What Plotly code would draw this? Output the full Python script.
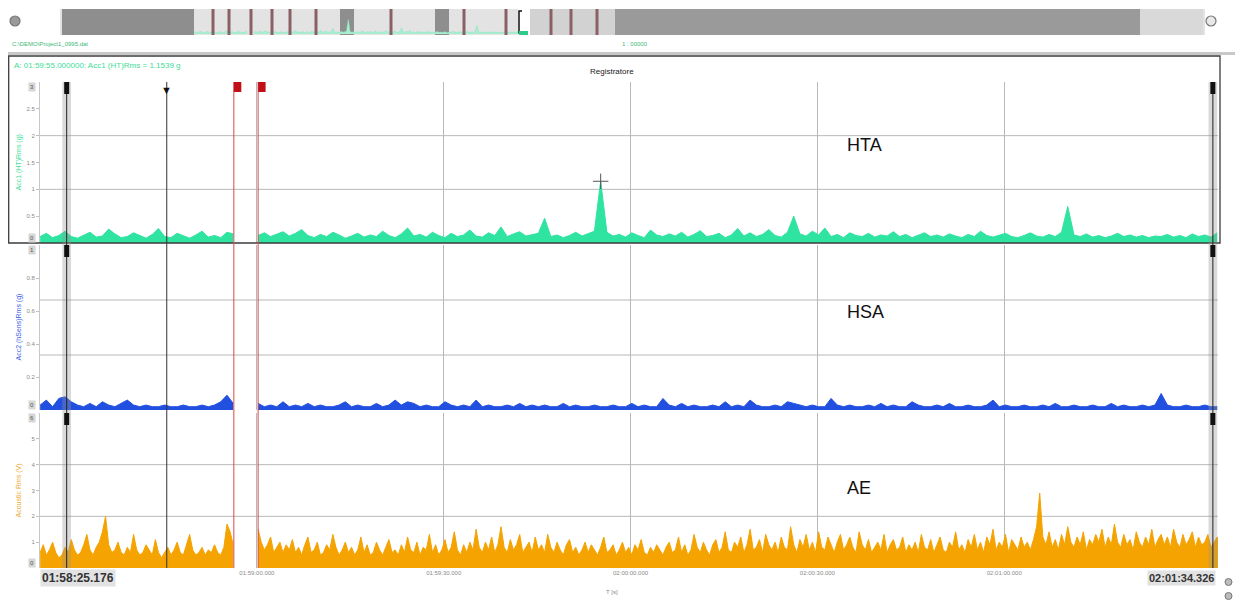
import numpy as np
import pandas as pd
import plotly.graph_objects as go

# The page body has an 8px margin, so the figure is made 8px smaller and
# all pixel positions below are given in page coordinates.
PAGE_W, PAGE_H = 1243, 604
OFF = 8
W, H = PAGE_W - OFF, PAGE_H - OFF

# ---------------- data ----------------
start_time = "2000-01-01 01:58:25.2"
x_start = "2000-01-01 01:58:25.176"
x_end = "2000-01-01 02:01:34.326"

# HTA and HSA: one value per second
hta = [
    0.12, 0.18, 0.10, 0.14, 0.22, 0.12, 0.09, 0.15, 0.20, 0.11,
    0.13, 0.26, 0.17, 0.10, 0.12, 0.19, 0.14, 0.09, 0.16, 0.27,
    0.12, 0.10, 0.18, 0.13, 0.09, 0.15, 0.22, 0.11, 0.14, 0.10,
    0.20, 0.17, None, None, None, 0.14, 0.19, 0.12, 0.16, 0.21,
    0.13, 0.18, 0.25, 0.14, 0.10, 0.16, 0.12, 0.20, 0.15, 0.09,
    0.13, 0.18, 0.11, 0.15, 0.12, 0.22, 0.14, 0.10, 0.17, 0.28,
    0.13, 0.16, 0.11, 0.20, 0.14, 0.10, 0.18, 0.12, 0.15, 0.24,
    0.13, 0.11, 0.19, 0.14, 0.30, 0.12, 0.17, 0.21, 0.13, 0.16,
    0.18, 0.46, 0.12, 0.15, 0.10, 0.14, 0.20, 0.13, 0.17, 0.22,
    1.15, 0.20, 0.13, 0.16, 0.11, 0.19, 0.14, 0.10, 0.24, 0.15,
    0.12, 0.17, 0.13, 0.20, 0.11, 0.16, 0.23, 0.12, 0.14, 0.18,
    0.10, 0.15, 0.27, 0.13, 0.19, 0.12, 0.16, 0.25, 0.14, 0.11,
    0.20, 0.50, 0.17, 0.13, 0.22, 0.15, 0.28, 0.12, 0.16, 0.10,
    0.19, 0.14, 0.12, 0.18, 0.11, 0.15, 0.13, 0.21, 0.12, 0.16,
    0.10, 0.14, 0.19, 0.12, 0.15, 0.11, 0.17, 0.13, 0.10, 0.16,
    0.12, 0.22, 0.14, 0.11, 0.15, 0.18, 0.12, 0.10, 0.14, 0.19,
    0.13, 0.11, 0.16, 0.12, 0.20, 0.68, 0.15, 0.12, 0.17, 0.11,
    0.14, 0.10, 0.13, 0.18, 0.12, 0.15, 0.11, 0.14, 0.10, 0.13,
    0.12, 0.16, 0.11, 0.14, 0.10, 0.17, 0.12, 0.15, 0.11, 0.19,
]

hsa = [
    0.03, 0.06, 0.02, 0.07, 0.08, 0.05, 0.03, 0.02, 0.04, 0.02,
    0.05, 0.03, 0.02, 0.04, 0.06, 0.03, 0.02, 0.03, 0.02, 0.02,
    0.03, 0.02, 0.02, 0.03, 0.02, 0.02, 0.03, 0.02, 0.03, 0.05,
    0.09, 0.04, None, None, None, 0.04, 0.02, 0.03, 0.02, 0.05,
    0.02, 0.03, 0.02, 0.04, 0.02, 0.03, 0.02, 0.02, 0.03, 0.05,
    0.02, 0.03, 0.02, 0.02, 0.04, 0.02, 0.03, 0.06, 0.03, 0.05,
    0.04, 0.02, 0.03, 0.02, 0.02, 0.05, 0.03, 0.02, 0.03, 0.02,
    0.06, 0.02, 0.03, 0.02, 0.02, 0.03, 0.02, 0.04, 0.02, 0.03,
    0.02, 0.03, 0.02, 0.02, 0.04, 0.02, 0.03, 0.02, 0.02, 0.03,
    0.02, 0.02, 0.03, 0.02, 0.02, 0.04, 0.02, 0.03, 0.02, 0.02,
    0.07, 0.03, 0.02, 0.04, 0.02, 0.03, 0.02, 0.02, 0.03, 0.02,
    0.05, 0.02, 0.03, 0.02, 0.06, 0.03, 0.02, 0.02, 0.03, 0.02,
    0.05, 0.04, 0.03, 0.02, 0.03, 0.02, 0.02, 0.07, 0.03, 0.02,
    0.03, 0.02, 0.02, 0.03, 0.02, 0.04, 0.02, 0.03, 0.02, 0.02,
    0.05, 0.03, 0.02, 0.02, 0.03, 0.02, 0.04, 0.02, 0.02, 0.03,
    0.02, 0.02, 0.03, 0.06, 0.02, 0.03, 0.02, 0.02, 0.03, 0.02,
    0.02, 0.03, 0.02, 0.04, 0.02, 0.02, 0.03, 0.02, 0.02, 0.03,
    0.02, 0.02, 0.04, 0.02, 0.03, 0.02, 0.02, 0.03, 0.02, 0.03,
    0.10, 0.03, 0.02, 0.02, 0.03, 0.02, 0.02, 0.03, 0.02, 0.02,
]

# AE: one value per half second
ae = [
    0.6, 0.9, 0.5, 0.7, 1.0, 0.6, 0.4, 0.5, 0.8, 0.6, 1.1, 0.7, 0.5, 0.6, 0.9, 1.3, 0.7, 0.5, 0.8, 1.0,
    1.4, 2.0, 0.9, 0.6, 0.7, 1.0, 0.6, 0.5, 0.8, 0.6, 1.3, 0.7, 0.5, 0.6, 0.9, 0.7, 0.5, 1.1, 0.6, 0.4,
    0.6, 0.8, 0.5, 0.7, 1.0, 0.6, 0.5, 0.9, 1.3, 0.7, 0.5, 0.6, 0.8, 0.5, 0.7, 0.6, 0.9, 0.6, 0.5, 0.8,
    1.7, 1.4, 0.9, None, None, None, None, None, None, None, 1.5, 1.0, 0.7, 0.9, 1.2, 0.6, 0.8, 1.0, 0.6, 0.9,
    0.7, 1.1, 0.6, 0.8, 0.5, 0.9, 1.2, 0.6, 0.7, 1.0, 0.5, 0.6, 0.9, 0.7, 1.3, 0.8, 0.5, 0.7, 1.0, 0.6,
    0.8, 0.5, 0.7, 1.2, 0.6, 0.9, 0.5, 0.6, 1.0, 0.7, 0.5, 0.8, 1.1, 0.6, 0.7, 0.5, 0.9, 0.6, 1.2, 0.7,
    0.6, 1.0, 0.5, 0.8, 0.7, 1.3, 0.6, 0.9, 0.5, 0.7, 1.1, 0.6, 0.8, 1.4, 0.7, 0.5, 0.9, 0.6, 1.0, 0.7,
    1.5, 0.8, 0.6, 1.0, 0.7, 1.2, 0.6, 0.9, 1.6, 0.8, 0.6, 1.1, 0.7, 0.9, 1.3, 0.6, 0.8, 1.0, 0.6, 1.2,
    0.7, 0.9, 0.6, 1.3, 0.8, 0.6, 1.0, 0.7, 0.5, 0.9, 1.1, 0.6, 0.8, 0.5, 0.7, 1.0, 0.6, 0.9, 0.7, 0.5,
    0.8, 1.2, 0.6, 0.7, 0.9, 0.5, 0.7, 1.0, 0.6, 0.8, 0.5, 0.9, 0.7, 1.1, 0.6, 0.5, 0.8, 0.6, 0.9, 0.7,
    0.5, 0.8, 1.0, 0.6, 0.7, 1.2, 0.6, 0.9, 0.5, 0.7, 1.3, 0.8, 0.6, 1.0, 0.7, 0.5, 0.9, 1.1, 0.6, 0.8,
    1.4, 0.7, 0.6, 1.0, 0.8, 1.2, 0.6, 0.9, 1.5, 0.7, 0.8, 1.1, 0.6, 1.3, 0.9, 0.7, 1.0, 0.6, 1.2, 0.8,
    0.7, 1.6, 0.9, 0.6, 1.1, 0.8, 1.3, 0.7, 1.0, 0.6, 1.4, 0.8, 0.7, 1.2, 0.9, 0.6, 1.0, 1.3, 0.7, 0.9,
    1.2, 0.8, 0.6, 1.4, 0.9, 0.7, 1.1, 0.6, 0.8, 1.0, 0.7, 1.3, 0.6, 0.9, 1.1, 0.7, 0.8, 1.2, 0.6, 0.9,
    0.7, 1.0, 0.6, 1.3, 0.8, 0.7, 1.1, 0.6, 0.9, 1.2, 0.7, 0.6, 1.0, 0.8, 1.4, 0.7, 0.9, 0.6, 1.1, 0.8,
    1.3, 0.7, 1.0, 0.6, 1.2, 0.9, 1.5, 0.7, 1.0, 0.8, 1.3, 0.6, 1.1, 0.9, 0.7, 1.2, 0.8, 1.0, 0.7, 1.1,
    1.6, 2.9, 1.2, 0.9, 1.4, 0.8, 1.1, 0.7, 1.3, 0.9, 1.6, 1.0, 0.8, 1.2, 0.9, 1.4, 0.7, 1.1, 0.9, 1.3,
    1.0, 1.5, 0.8, 1.2, 0.9, 1.7, 1.0, 0.8, 1.3, 0.9, 1.1, 0.7, 1.4, 1.0, 0.8, 1.2, 0.9, 1.5, 0.8, 1.1,
    1.3, 0.9, 1.2, 0.8, 1.5, 1.0, 0.8, 1.3, 0.9, 1.1, 1.4, 0.8, 1.2, 0.9, 1.0, 1.3, 0.8, 1.0, 1.2, 0.9,
]

sample_step_s = [1.0, 1.0, 0.5]

x_tick_times = ["01:59:00", "01:59:30", "02:00:00", "02:00:30", "02:01:00"]
x_tick_labels = ["01:59:00.000", "01:59:30.000", "02:00:00.000", "02:00:30.000", "02:01:00.000"]

cursor_times = ["01:58:29.46", "02:01:33.50"]
triangle_time = "01:58:45.53"
red_times = ["01:58:56.30", "01:59:00.20"]

panel_names = ["HTA", "HSA", "AE"]
panel_titles = ["Acc1 (HT)Rms (g)", "Acc2 (hSens)Rms (g)", "Acoustic Rms (V)"]
panel_ranges = [[0, 3], [0, 1], [0, 6]]
panel_ticks = [[0.5, 1, 1.5, 2, 2.5], [0.2, 0.4, 0.6, 0.8], [1, 2, 3, 4, 5]]
panel_tick_text = [["0.5", "1", "1.5", "2", "2.5"], ["0.2", "0.4", "0.6", "0.8"], ["1", "2", "3", "4", "5"]]
panel_top_label = ["3", "1", "6"]
panel_colors = ["#2fe3a0", "#2150e0", "#f5a300"]
title_colors = ["#3ddc97", "#3a5ee6", "#f0a830"]

# ---------------- helpers ----------------
def px(x):
    return (x - OFF) / W

def py(y):
    return 1 - (y - OFF) / H

def t(s):
    return "2000-01-01 " + s

def ts(s, d=0.0):
    return pd.Timestamp(t(s)) + pd.Timedelta(seconds=d)

def segments(xs, ys):
    segs, cx, cy = [], [], []
    for a, b in zip(xs, ys):
        if b is None:
            if cx:
                segs.append((cx, cy))
            cx, cy = [], []
        else:
            cx.append(a)
            cy.append(b)
    if cx:
        segs.append((cx, cy))
    return segs

def sample_times(n, step):
    return list(pd.Timestamp(start_time) + pd.to_timedelta(np.arange(n) * step, unit="s"))

FONT = "Liberation Sans, Arial, sans-serif"

domains = [[py(243), py(82)], [py(410), py(245)], [py(568), py(413)]]
xdom = [px(40), px(1218)]

fig = go.Figure()

series = [hta, hsa, ae]
for i, vals in enumerate(series):
    ax = "" if i == 0 else str(i + 1)
    tt = sample_times(len(vals), sample_step_s[i])
    for sx, sy in segments(tt, vals):
        fig.add_trace(go.Scatter(
            x=sx, y=sy, mode="lines", fill="tozeroy",
            line=dict(color=panel_colors[i], width=1),
            fillcolor=panel_colors[i],
            xaxis="x" + ax, yaxis="y" + ax, hoverinfo="skip", showlegend=False,
        ))

# peak cursor cross on HTA
hta_times = sample_times(len(hta), sample_step_s[0])
hta_arr = np.array([v if v is not None else np.nan for v in hta], dtype=float)
peak_idx = int(np.nanargmax(hta_arr))
fig.add_trace(go.Scatter(
    x=[hta_times[peak_idx]], y=[hta[peak_idx]], mode="markers",
    marker=dict(symbol="cross-thin", size=11, line=dict(color="#555", width=1)),
    xaxis="x", yaxis="y", hoverinfo="skip", showlegend=False, cliponaxis=False,
))

# overview mini trace in navigation bar
for sx, sy in segments(hta_times, hta):
    fig.add_trace(go.Scatter(
        x=sx, y=sy, mode="lines", fill="tozeroy",
        line=dict(color="#8fe6c2", width=0.6), fillcolor="#a9eed2",
        xaxis="x4", yaxis="y4", hoverinfo="skip", showlegend=False,
    ))

layout = dict(
    width=W, height=H, margin=dict(l=0, r=0, t=0, b=0),
    paper_bgcolor="white", plot_bgcolor="white",
    font=dict(family=FONT, size=7, color="#777"),
    showlegend=False,
)

for i in range(3):
    ax = "" if i == 0 else str(i + 1)
    layout["xaxis" + ax] = dict(
        type="date", domain=xdom, anchor="y" + ax,
        range=[x_start, x_end],
        tickvals=[t(s) for s in x_tick_times], ticktext=x_tick_labels,
        showticklabels=(i == 2), showgrid=True, gridcolor="#b8b8b8", gridwidth=1,
        zeroline=False, showline=False, ticks="",
        tickfont=dict(size=6, color="#8a8a8a"),
        **({} if i == 0 else dict(matches="x")),
    )
    layout["yaxis" + ax] = dict(
        domain=domains[i], anchor="x" + ax, range=panel_ranges[i],
        tickvals=panel_ticks[i], ticktext=panel_tick_text[i],
        showgrid=False, zeroline=False, showline=True, linecolor="#c8c8c8",
        ticks="outside", ticklen=3, tickcolor="#c0c0c0",
        tickfont=dict(size=6, color="#8a8a8a"),
    )

layout["xaxis4"] = dict(domain=[px(194), px(518)], anchor="y4", visible=False,
                        range=[hta_times[0], hta_times[-1]], type="date")
layout["yaxis4"] = dict(domain=[py(34), py(14)], anchor="x4", visible=False, range=[0, 1.6])

shapes = []
annotations = []

# ---- navigation bar ----
shapes.append(dict(type="rect", xref="paper", yref="paper", x0=px(60), x1=px(1205), y0=py(35), y1=py(9),
                   fillcolor="#e3e3e3", line=dict(width=0), layer="below"))
for a, b, c in [(62, 194, "#8e8e8e"), (340, 354, "#8e8e8e"), (435, 449, "#8e8e8e"),
                (530, 615, "#d2d2d2"), (615, 1140, "#9a9a9a"), (1140, 1203, "#d9d9d9")]:
    shapes.append(dict(type="rect", xref="paper", yref="paper", x0=px(a), x1=px(b), y0=py(35), y1=py(9),
                       fillcolor=c, line=dict(width=0), layer="below"))
for xs in [213, 229, 251, 272, 290, 316, 391, 464, 506, 551, 571, 597]:
    shapes.append(dict(type="rect", xref="paper", yref="paper", x0=px(xs - 1.5), x1=px(xs + 1.5), y0=py(35), y1=py(9),
                       fillcolor="#8a6066", line=dict(width=0), layer="above"))
shapes.append(dict(type="rect", xref="paper", yref="paper", x0=px(518), x1=px(530), y0=py(35), y1=py(9),
                   fillcolor="white", line=dict(width=0), layer="above"))
shapes.append(dict(type="path", xref="paper", yref="paper",
                   path=f"M {px(522)},{py(33)} L {px(519)},{py(33)} L {px(519)},{py(11)} L {px(522)},{py(11)}",
                   line=dict(color="#111", width=1.5), layer="above"))
shapes.append(dict(type="rect", xref="paper", yref="paper", x0=px(519), x1=px(528), y0=py(35), y1=py(31),
                   fillcolor="#2fc98a", line=dict(width=0), layer="above"))
for cx in [15, 1211]:
    shapes.append(dict(type="circle", xref="paper", yref="paper", x0=px(cx - 5), x1=px(cx + 5), y0=py(26), y1=py(16),
                       fillcolor="#9a9a9a" if cx == 15 else "#e8e8e8", line=dict(color="#777", width=1.2)))

annotations.append(dict(text="C:\\DEMO\\Project1_0995.dat", x=px(10), y=py(44), xref="paper", yref="paper",
                        xanchor="left", yanchor="middle", showarrow=False, font=dict(size=6, color="#3cb878")))
annotations.append(dict(text="1 : 00000", x=px(620), y=py(44), xref="paper", yref="paper",
                        xanchor="left", yanchor="middle", showarrow=False, font=dict(size=6, color="#3cb878")))

# separator and HTA frame
shapes.append(dict(type="rect", xref="paper", yref="paper", x0=px(8), x1=px(1243), y0=py(55), y1=py(52),
                   fillcolor="#c8c8c8", line=dict(width=0)))
shapes.append(dict(type="rect", xref="paper", yref="paper", x0=px(8.7), x1=px(1220), y0=py(243), y1=py(56),
                   fillcolor="rgba(0,0,0,0)", line=dict(color="#3c3c3c", width=1.3), layer="above"))

annotations.append(dict(text="A: 01:59:55.000000: Acc1 (HT)Rms = 1.1539 g", x=px(12), y=py(65), xref="paper", yref="paper",
                        xanchor="left", yanchor="middle", showarrow=False, font=dict(size=8, color="#3ddc97")))
annotations.append(dict(text="Registratore", x=px(612), y=py(72), xref="paper", yref="paper",
                        xanchor="center", yanchor="middle", showarrow=False, font=dict(size=8, color="#222")))

# horizontal grid lines at thirds of each panel
for i in range(3):
    ax = "" if i == 0 else str(i + 1)
    for f in [1 / 3, 2 / 3]:
        shapes.append(dict(type="line", xref="x" + ax + " domain", yref="y" + ax + " domain",
                           x0=0, x1=1, y0=f, y1=f, line=dict(color="#b8b8b8", width=1), layer="below"))

# cursors
for ct in cursor_times:
    shapes.append(dict(type="rect", xref="x", yref="paper", x0=ts(ct, -0.7), x1=ts(ct, 0.7),
                       y0=py(568), y1=py(82),
                       fillcolor="rgba(150,150,150,0.35)", line=dict(width=0), layer="above"))
    shapes.append(dict(type="line", xref="x", yref="paper", x0=ts(ct), x1=ts(ct), y0=py(568), y1=py(82),
                       line=dict(color="#222", width=1), layer="above"))
    for i in range(3):
        ax = "" if i == 0 else str(i + 1)
        shapes.append(dict(type="rect", xref="x", yref="y" + ax + " domain",
                           x0=ts(ct, -0.4), x1=ts(ct, 0.4),
                           y0=1 - 12 / ((domains[i][1] - domains[i][0]) * H), y1=1,
                           fillcolor="#111", line=dict(width=0), layer="above"))

shapes.append(dict(type="line", xref="x", yref="paper", x0=ts(triangle_time), x1=ts(triangle_time),
                   y0=py(568), y1=py(82), line=dict(color="#333", width=1), layer="above"))
annotations.append(dict(text="▼", x=ts(triangle_time), y=1, xref="x", yref="y domain", xanchor="center", yanchor="top",
                        showarrow=False, font=dict(size=11, color="#111")))

for rt in red_times:
    shapes.append(dict(type="line", xref="x", yref="paper", x0=ts(rt), x1=ts(rt), y0=py(568), y1=py(82),
                       line=dict(color="#d84848", width=1), layer="above"))
    shapes.append(dict(type="rect", xref="x", yref="y domain", x0=ts(rt), x1=ts(rt, 1.2),
                       y0=1 - 10 / 161, y1=1,
                       fillcolor="#c0101a", line=dict(width=0), layer="above"))

# y-axis titles, boxed extremes, panel names
for i in range(3):
    ax = "" if i == 0 else str(i + 1)
    ymid = (domains[i][0] + domains[i][1]) / 2
    annotations.append(dict(text=panel_titles[i], x=px(18), y=ymid, xref="paper", yref="paper",
                            textangle=-90, xanchor="center", yanchor="middle", showarrow=False,
                            font=dict(size=7, color=title_colors[i])))
    for yv, lab, ya in [(1, panel_top_label[i], "top"), (0, "0", "bottom")]:
        annotations.append(dict(text=lab, x=px(36), y=yv, xref="paper", yref="y" + ax + " domain",
                                xanchor="right", yanchor=ya, showarrow=False, bgcolor="#d6d6d6",
                                borderpad=1, font=dict(size=6, color="#555")))
    annotations.append(dict(text=panel_names[i], x=px(845), y=[py(145), py(312), py(488)][i],
                            xref="paper", yref="paper",
                            xanchor="left", yanchor="middle", showarrow=False,
                            font=dict(size=18, color="#111", family=FONT)))

# bottom labels
annotations.append(dict(text="<b>01:58:25.176</b>", x=px(40), y=py(578), xref="paper", yref="paper",
                        xanchor="left", yanchor="middle", showarrow=False, bgcolor="#e2e2e2",
                        font=dict(size=12, color="#333")))
annotations.append(dict(text="<b>02:01:34.326</b>", x=px(1216), y=py(578), xref="paper", yref="paper",
                        xanchor="right", yanchor="middle", showarrow=False, bgcolor="#e2e2e2",
                        font=dict(size=11, color="#333")))
annotations.append(dict(text="T [s]", x=px(612), y=py(592), xref="paper", yref="paper",
                        xanchor="center", yanchor="middle", showarrow=False, font=dict(size=6, color="#888")))
for cy in [582, 596]:
    shapes.append(dict(type="circle", xref="paper", yref="paper", x0=px(1225), x1=px(1232),
                       y0=py(cy + 3.5), y1=py(cy - 3.5),
                       fillcolor="#bbb", line=dict(color="#777", width=1)))

layout["shapes"] = shapes
layout["annotations"] = annotations
fig.update_layout(**layout)

fig.write_html("out.html")
